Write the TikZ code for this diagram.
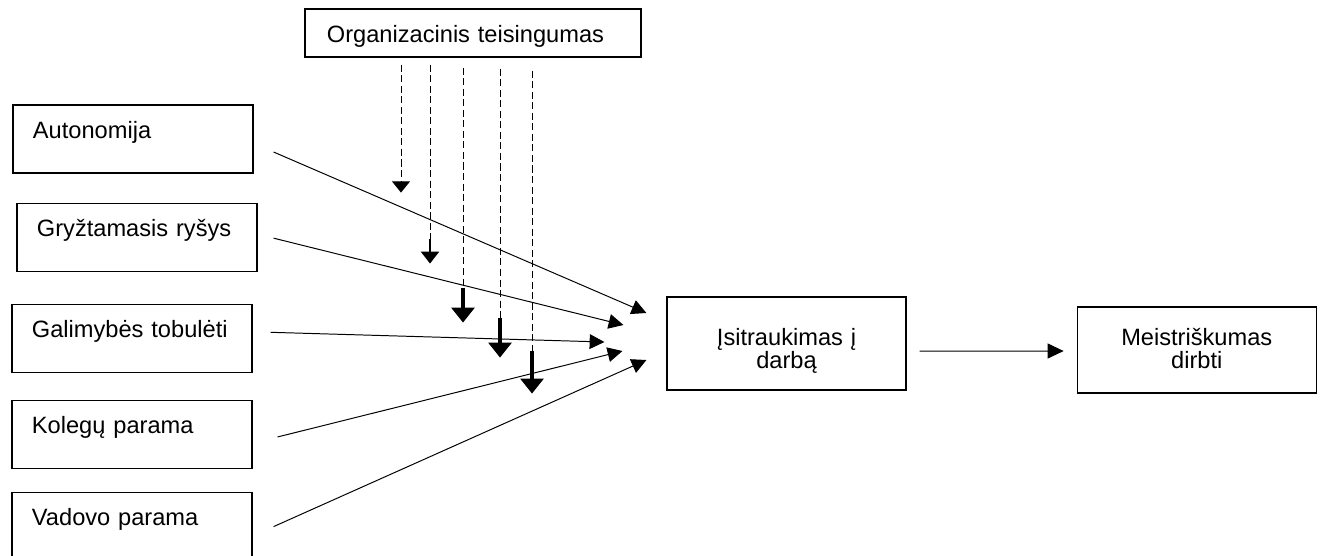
\documentclass[tikz,border=0pt]{standalone}
\usepackage{fontspec}
\setmainfont{Liberation Sans}
\usetikzlibrary{arrows.meta,positioning}

\begin{document}
\begin{tikzpicture}[x=0.025cm, y=-0.025cm, >={Triangle[length=10.5pt,width=10.5pt]}, every node/.style={font=\fontsize{16.8}{16.4}\selectfont}]
    \tikzstyle{factor}=[draw, line width=0.8pt, inner xsep=0.5cm, inner ysep=0pt, text width=5cm, align=left, text height=0.825cm, text depth=0.875cm]
    \tikzstyle{result}=[draw, line width=0.8pt, inner xsep=0.25cm, inner ysep=0pt, text width=5.475cm, align=center]
    \tikzstyle{link}=[->, line width=0.7pt]
    \tikzstyle{mod}=[line width=0.7pt, dash pattern=on 5pt off 2.5pt]

    \useasboundingbox (0,0) rectangle (1320,555);

    % moderator
    \node[draw, line width=0.8pt, inner xsep=0.55cm, inner ysep=0pt, text width=7.3cm, align=left, text height=0.825cm, text depth=0.375cm] (org) at (473,33) {Organizacinis teisingumas};

    % job resources
    \node[factor] (auto) at (133,139) {Autonomija};
    \node[factor, below=0.725cm of auto, xshift=0.1cm] (gryz) {Gryžtamasis ryšys};
    \node[factor, below=0.8cm of gryz, xshift=-0.125cm] (galim) {Galimybės tobulėti};
    \node[factor, below=0.675cm of galim] (koleg) {Kolegų parama};
    \node[factor, below=0.575cm of koleg] (vadov) {Vadovo parama};

    % outcomes
    \node[result, text height=1.2cm, text depth=1.125cm] (isitr) at (786.5,343.5) {Įsitraukimas į\\darbą};
    \node[result, text height=0.95cm, text depth=1.2cm, right=4.25cm of isitr, yshift=-0.1625cm] (meist) {Meistriškumas\\dirbti};

    % free ends
    \coordinate (t1) at ([shift={(-20,-30.5)}]isitr.west);
    \coordinate (t2) at ([shift={(-43,-18.5)}]isitr.west);
    \coordinate (t3) at ([shift={(-62,-1.5)}]isitr.west);
    \coordinate (t4) at ([shift={(-44,7.5)}]isitr.west);
    \coordinate (t5) at ([shift={(-20,16.5)}]isitr.west);
    \coordinate (m1) at ([shift={(-72,135)}]org.south);
    \coordinate (m2) at ([shift={(-43,206)}]org.south);
    \coordinate (m3) at ([shift={(-10,265)}]org.south);
    \coordinate (m4) at ([shift={(27,300)}]org.south);
    \coordinate (m5) at ([shift={(59,336)}]org.south);

    \draw[link] ([shift={(20,13)}]auto.east) -- (t1);
    \draw[link] ([shift={(16,1)}]gryz.east) -- (t2);
    \draw[link] ([shift={(18,-6)}]galim.east) -- (t3);
    \draw[link] ([shift={(25,2.5)}]koleg.east) -- (t4);
    \draw[link] ([shift={(21,0)}]vadov.east) -- (t5);
    \draw[link, -{Triangle[length=11.4pt,width=10.7pt]}] ([shift={(13,7.5)}]isitr.east) -- ([shift={(-13,1)}]meist.west);

    \draw[mod, -{Triangle[length=8pt,width=12.8pt]}] ([shift={(-72,7)}]org.south) -- (m1);
    \draw[mod] ([shift={(-43,7)}]org.south) -- ([shift={(0,-25)}]m2);
    \draw[-{Triangle[length=8.5pt,width=12.8pt]}, line width=1.5pt] ([shift={(0,-25)}]m2) -- (m2);
    \draw[mod] ([shift={(-10,10)}]org.south) -- ([shift={(0,-35)}]m3);
    \draw[-{Triangle[length=10.7pt,width=16.4pt]}, line width=2.2pt] ([shift={(0,-35)}]m3) -- (m3);
    \draw[mod] ([shift={(27,11)}]org.south) -- ([shift={(0,-40)}]m4);
    \draw[-{Triangle[length=10.7pt,width=16.4pt]}, line width=2.2pt] ([shift={(0,-40)}]m4) -- (m4);
    \draw[mod] ([shift={(59,13)}]org.south) -- ([shift={(0,-43)}]m5);
    \draw[-{Triangle[length=10.7pt,width=16.4pt]}, line width=2.2pt] ([shift={(0,-43)}]m5) -- (m5);
\end{tikzpicture}
\end{document}
